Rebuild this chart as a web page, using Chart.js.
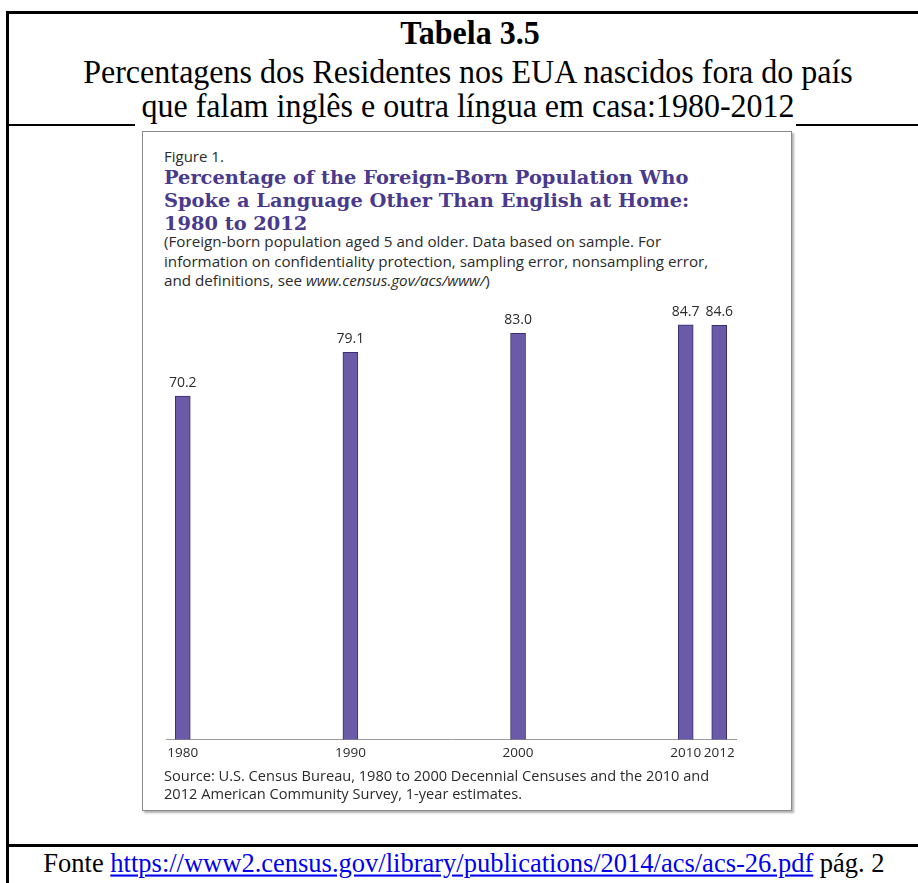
<!DOCTYPE html>
<html lang="pt">
<head>
<meta charset="utf-8">
<title>Tabela 3.5</title>
<script src="https://cdn.jsdelivr.net/npm/chart.js@4.4.1/dist/chart.umd.min.js"></script>
<style>
  html, body { margin: 0; padding: 0; background: #fff; }
  body { width: 918px; height: 883px; position: relative; overflow: hidden; }
  .rule { position: absolute; background: #000; }
  .serif { position: absolute; font-family: "Liberation Serif", "Times New Roman", serif; color: #000; text-align: center; white-space: nowrap; transform-origin: 50% 0; }
  .fig { position: absolute; left: 135px; top: 119px; width: 661px; height: 697px; background: #fff; }
  .frame { position: absolute; left: 142px; top: 131px; width: 648px; height: 678px; border: 1px solid #8a8a8a; box-shadow: 2px 2px 2px #b0b0b0; background: #fff; }
  .txt { position: absolute; left: 164px; font-family: "Open Sans", "DejaVu Sans", sans-serif; color: #2b2b2b; white-space: nowrap; }
  .head { position: absolute; left: 164px; font-family: "DejaVu Serif", serif; font-weight: bold; color: #4a3a8e; white-space: nowrap; }
  #chartWrap { position: absolute; left: 146px; top: 240px; width: 610px; height: 528px; }
  a { color: #0000ee; }
</style>
</head>
<body>

<!-- moldura da tabela -->
<div class="rule" style="left:6px; top:11px; width:912px; height:3px;"></div>
<div class="rule" style="left:6px; top:11px; width:3px; height:872px;"></div>
<div class="rule" style="left:6px; top:124px; width:912px; height:2px;"></div>
<div class="rule" style="left:6px; top:844px; width:912px; height:3px;"></div>

<!-- figura do Census -->
<div class="fig"></div>
<div class="frame"></div>

<div class="serif" style="left:9px; width:922px; top:14px; font-size:32px; font-weight:bold; line-height:34px; transform:scaleY(1.06);">Tabela 3.5</div>
<div class="serif" style="left:9px; width:918px; top:54px; font-size:32px; line-height:32px; transform:scaleY(1.06);">Percentagens dos Residentes nos EUA nascidos fora do país<br>que falam inglês e outra língua em casa:1980-2012</div>

<div class="txt" style="top:146px; font-size:15px; line-height:20px;">Figure 1.</div>
<div class="head" style="top:166px; font-size:19.4px; line-height:23px;">Percentage of the Foreign-Born Population Who<br>Spoke a Language Other Than English at Home:<br>1980 to 2012</div>
<div class="txt" style="top:232px; font-size:15.2px; line-height:19.5px;">(Foreign-born population aged 5 and older. Data based on sample. For<br>information on confidentiality protection, sampling error, nonsampling error,<br>and definitions, see <i>www.census.gov/acs/www/</i>)</div>

<div id="chartWrap"><canvas id="chartIdiomas"></canvas></div>

<div class="txt" style="top:766px; font-size:14.6px; line-height:18px;">Source: U.S. Census Bureau, 1980 to 2000 Decennial Censuses and the 2010 and<br>2012 American Community Survey, 1-year estimates.</div>

<div class="serif" style="left:9px; width:910px; top:848px; font-size:26.5px; line-height:28px; transform:scaleY(1.06);">Fonte <a href="https://www2.census.gov/library/publications/2014/acs/acs-26.pdf">https://www2.census.gov/library/publications/2014/acs/acs-26.pdf</a> pág. 2</div>

<script>
// anos e percentagens da Figura 1
const anos = [1980, 1990, 2000, 2010, 2012];
const percentagens = [70.2, 79.1, 83.0, 84.7, 84.6];
const rotulos = ['70.2', '79.1', '83.0', '84.7', '84.6'];

// escreve o valor por cima de cada barra
const valoresNasBarras = {
    id: 'valoresNasBarras',
    afterDatasetsDraw(chart) {
        const ctx = chart.ctx;
        const meta = chart.getDatasetMeta(0);
        ctx.save();
        ctx.font = "14px 'Open Sans', 'DejaVu Sans', sans-serif";
        ctx.fillStyle = '#2b2b2b';
        ctx.textAlign = 'center';
        ctx.textBaseline = 'bottom';
        meta.data.forEach((bar, i) => {
            ctx.fillText(rotulos[i], bar.x, bar.y - 6);
        });
        ctx.restore();
    }
};

new Chart(document.getElementById('chartIdiomas'), {
    type: 'bar',
    data: {
        datasets: [{
            data: anos.map((a, i) => ({ x: a, y: percentagens[i] })),
            backgroundColor: '#6a5aa8',
            borderColor: '#3a2f6c',
            borderWidth: 1,
            barThickness: 15
        }]
    },
    options: {
        responsive: true,
        maintainAspectRatio: false,
        animation: false,
        layout: { padding: { left: 20, right: 20, top: 10, bottom: 2 } },
        plugins: { legend: { display: false }, tooltip: { enabled: false } },
        scales: {
            x: {
                type: 'linear',
                offset: false,
                min: 1979,
                max: 2013,
                grid: { display: false, drawTicks: false, offset: false },
                border: { display: true, color: '#9a9a9a', width: 1 },
                afterBuildTicks: (axis) => { axis.ticks = anos.map(v => ({ value: v })); },
                ticks: {
                    padding: 5,
                    color: '#2b2b2b',
                    font: { family: "'Open Sans', 'DejaVu Sans', sans-serif", size: 13.5 },
                    maxRotation: 0,
                    autoSkip: false,
                    callback: (v) => String(v)
                }
            },
            y: {
                display: false,
                min: 0,
                max: 100
            }
        }
    },
    plugins: [valoresNasBarras]
});
</script>
</body>
</html>
